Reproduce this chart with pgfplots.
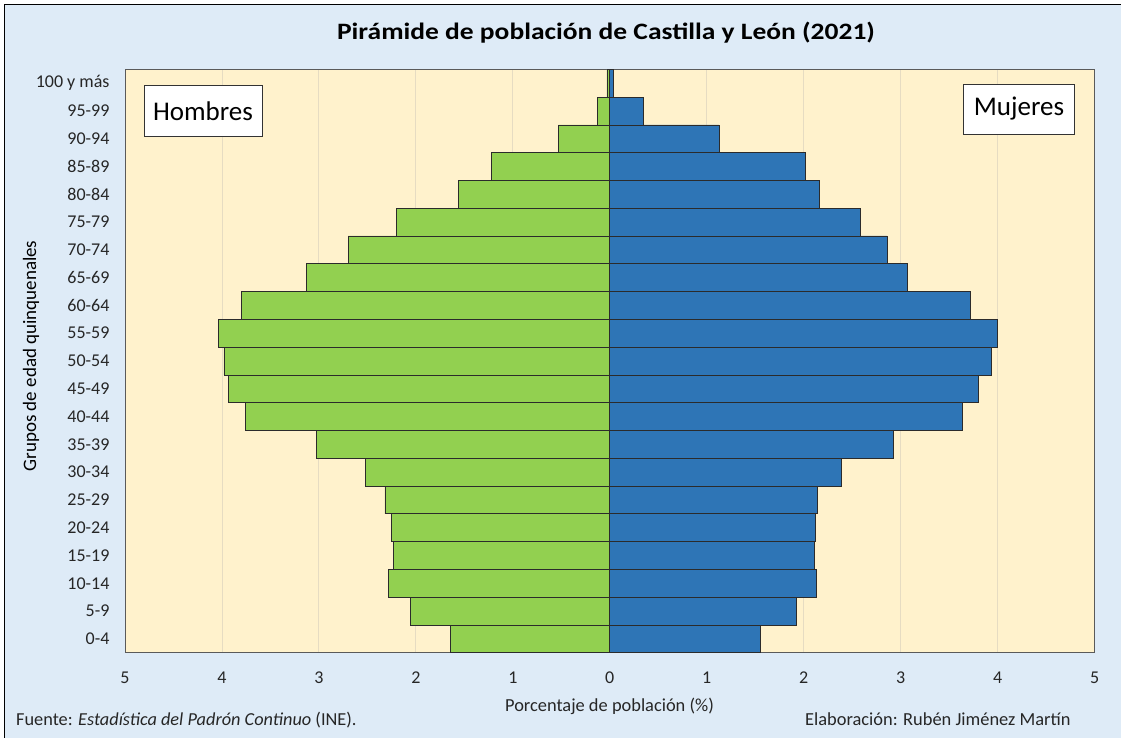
\documentclass[border=0pt]{standalone}
\usepackage{fontspec}
\setmainfont{Carlito}
\usepackage{pgfplots}
\pgfplotsset{compat=1.18}
\definecolor{bgc}{HTML}{DEEBF7}
\definecolor{plotbg}{HTML}{FFF2CC}
\definecolor{menc}{HTML}{92D050}
\definecolor{womc}{HTML}{2E75B6}
\definecolor{barc}{HTML}{2B2B2B}
\definecolor{gridc}{HTML}{E6DCC2}
\definecolor{axc}{HTML}{5A5A5A}
\begin{document}
\begin{tikzpicture}[x=1pt,y=1pt]
\useasboundingbox (0,0) rectangle (1121,738);
\fill[white] (0,0) rectangle (1121,738);
\fill[bgc] (4.5,0) rectangle (1121,733.5);
\draw[black, line width=1.2pt] (4.5,-5) -- (4.5,733.5) -- (1130,733.5);
\begin{axis}[
  at={(125pt,85.3pt)}, anchor=south west,
  scale only axis, width=969.6pt, height=583.4pt,
  xbar, bar width=1,
  xmin=-5, xmax=5, ymin=-0.5, ymax=20.5,
  xtick={-5,-4,...,5},
  ytick={0,1,...,20},
  yticklabels={0-4,5-9,10-14,15-19,20-24,25-29,30-34,35-39,40-44,45-49,50-54,55-59,60-64,65-69,70-74,75-79,80-84,85-89,90-94,95-99,100 y más},
  /pgf/number format/assume math mode=true,
  xticklabel={\pgfmathparse{abs(\tick)}\pgfmathprintnumber[fixed,precision=0]{\pgfmathresult}},
  major tick length=0pt,
  xmajorgrids, ymajorgrids=false,
  grid style={color=gridc, line width=0.9pt},
  axis background/.style={fill=plotbg},
  axis line style={color=axc, line width=1pt},
  tick label style={font=\fontsize{18}{18}\selectfont, text=black!85},
  yticklabel style={xshift=-12pt},
  xticklabel style={yshift=-16pt},
]
\addplot[xbar, bar shift=0pt, bar width=1, fill=menc, draw=barc, line width=0.7pt] coordinates {
(-1.64,0) (-2.06,1) (-2.28,2) (-2.23,3) (-2.25,4) (-2.32,5) (-2.52,6) (-3.03,7) (-3.76,8) (-3.93,9) (-3.98,10) (-4.04,11) (-3.80,12) (-3.13,13) (-2.70,14) (-2.20,15) (-1.56,16) (-1.22,17) (-0.53,18) (-0.13,19) (-0.03,20)};
\addplot[xbar, bar shift=0pt, bar width=1, fill=womc, draw=barc, line width=0.7pt] coordinates {
(1.55,0) (1.92,1) (2.13,2) (2.11,3) (2.12,4) (2.14,5) (2.39,6) (2.92,7) (3.64,8) (3.80,9) (3.93,10) (4.00,11) (3.72,12) (3.07,13) (2.86,14) (2.58,15) (2.16,16) (2.02,17) (1.125,18) (0.35,19) (0.04,20)};
\end{axis}
\node[font=\bfseries\fontsize{23.5}{23.5}\selectfont, anchor=base, xscale=1.17] at (606,698.7) {Pirámide de población de Castilla y León (2021)};
\node[draw=black!80, fill=white, line width=0.8pt, minimum width=118pt, minimum height=51pt, inner sep=0pt, font=\fontsize{27}{27}\selectfont] at (203,626.7) {Hombres};
\node[draw=black!80, fill=white, line width=0.8pt, minimum width=111pt, minimum height=50pt, inner sep=0pt, font=\fontsize{27}{27}\selectfont] at (1019,629) {Mujeres};
\node[rotate=90, font=\fontsize{19}{19}\selectfont, anchor=base] at (36,382) {Grupos de edad quinquenales};
\node[font=\fontsize{18.4}{18.4}\selectfont, anchor=base, text=black!85] at (609.5,26.3) {Porcentaje de población (\%)};
\node[font=\fontsize{18.3}{18.3}\selectfont, anchor=base west, inner sep=0pt, text=black!85] at (16,12) {Fuente: \textit{Estadística del Padrón Continuo} (INE).};
\node[font=\fontsize{18.4}{18.4}\selectfont, anchor=base west, inner sep=0pt, text=black!85] at (805,12) {Elaboración: Rubén Jiménez Martín};
\end{tikzpicture}
\end{document}
